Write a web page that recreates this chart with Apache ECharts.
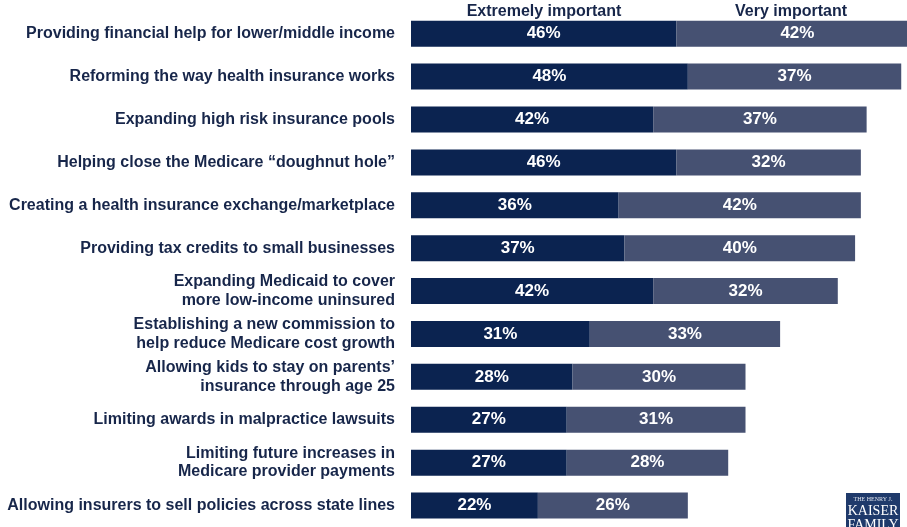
<!DOCTYPE html>
<html>
<head>
<meta charset="utf-8">
<script src="https://cdn.jsdelivr.net/npm/echarts@6/dist/echarts.min.js"></script>
<style>html,body{margin:0;padding:0;background:#fff;}#c{width:907px;height:527px;}</style>
</head>
<body>
<div id="c"></div>
<script>
const categories = [
  'Providing financial help for lower/middle income',
  'Reforming the way health insurance works',
  'Expanding high risk insurance pools',
  'Helping close the Medicare \u201cdoughnut hole\u201d',
  'Creating a health insurance exchange/marketplace',
  'Providing tax credits to small businesses',
  'Expanding Medicaid to cover\nmore low-income uninsured',
  'Establishing a new commission to\nhelp reduce Medicare cost growth',
  'Allowing kids to stay on parents\u2019\ninsurance through age 25',
  'Limiting awards in malpractice lawsuits',
  'Limiting future increases in\nMedicare provider payments',
  'Allowing insurers to sell policies across state lines'
];
const extremely = [46, 48, 42, 46, 36, 37, 42, 31, 28, 27, 27, 22];
const very = [42, 37, 37, 32, 42, 40, 32, 33, 30, 31, 28, 26];
const seriesNames = ['Extremely important', 'Very important'];

const chart = echarts.init(document.getElementById('c'));
const FF = 'Arial, Liberation Sans, sans-serif';
const lbl = {show: true, position: 'inside', color: '#fff', fontFamily: FF, fontWeight: 'bold', fontSize: 17, formatter: p => p.value + '%'};
chart.setOption({
  animation: false,
  grid: {left: 411, top: 12.25, right: 0, height: 522, containLabel: false},
  xAxis: {type: 'value', min: 0, max: 86, show: false},
  yAxis: {
    type: 'category', data: categories, inverse: true,
    axisLine: {show: false}, axisTick: {show: false},
    axisLabel: {margin: 16, color: '#17264a', fontFamily: FF, fontWeight: 'bold', fontSize: 16, lineHeight: 18.5, align: 'right'}
  },
  series: [
    {name: seriesNames[0], type: 'bar', stack: 's', data: extremely, barWidth: 26, itemStyle: {color: '#0b2350'}, label: lbl, clip: false},
    {name: seriesNames[1], type: 'bar', stack: 's', data: very, barWidth: 26, itemStyle: {color: '#465172'}, label: lbl, clip: false}
  ],
  graphic: [
    {type: 'text', x: 544, y: 12, style: {text: seriesNames[0], fill: '#17264a', font: 'bold 16px ' + FF, textAlign: 'center', textVerticalAlign: 'middle'}},
    {type: 'text', x: 791, y: 12, style: {text: seriesNames[1], fill: '#17264a', font: 'bold 16px ' + FF, textAlign: 'center', textVerticalAlign: 'middle'}},
    {type: 'group', x: 846, y: 493, children: [
      {type: 'rect', shape: {x: 0, y: 0, width: 54, height: 40}, style: {fill: '#1f3a6b'}},
      {type: 'text', x: 27, y: 3, style: {text: 'THE HENRY J.', fill: '#dfe4ee', font: '6px Liberation Serif, serif', textAlign: 'center'}},
      {type: 'text', x: 27, y: 11, style: {text: 'KAISER', fill: '#fff', font: '14px Liberation Serif, serif', textAlign: 'center'}},
      {type: 'text', x: 27, y: 25, style: {text: 'FAMILY', fill: '#fff', font: '14px Liberation Serif, serif', textAlign: 'center'}}
    ]}
  ]
});
</script>
</body>
</html>
